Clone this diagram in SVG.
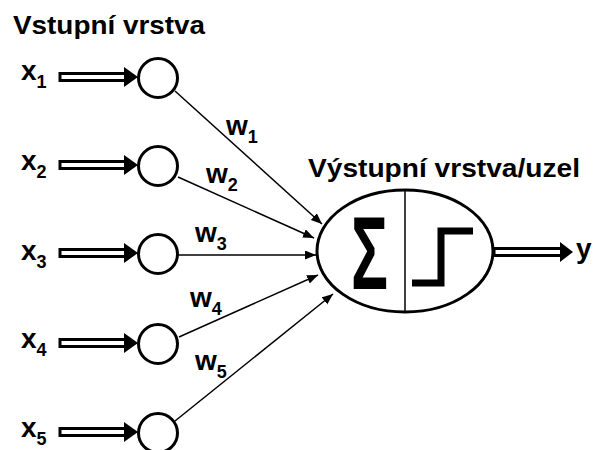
<svg xmlns="http://www.w3.org/2000/svg" width="593" height="450" viewBox="0 0 593 450">
<defs>
<style>
.t{font-family:"Liberation Sans",Arial,sans-serif;font-weight:bold;fill:#000}
.lbl{font-size:28px}
.sub{font-size:18px}
.node{fill:#fff;stroke:#000;stroke-width:3}
.conn{stroke:#000;stroke-width:1.5;fill:none;marker-end:url(#ah)}
.shaft{fill:#fff;stroke:#000;stroke-width:3}
.head{fill:#000}
</style>
<marker id="ah" markerUnits="userSpaceOnUse" markerWidth="12" markerHeight="10" refX="11" refY="4.5" orient="auto">
<path d="M0,0 L11,4.5 L0,9 Z" fill="#000"/>
</marker>
</defs>
<rect width="593" height="450" fill="#fff"/>
<text class="t" x="13" y="34" font-size="25" textLength="192" lengthAdjust="spacingAndGlyphs">Vstupní vrstva</text>
<text class="t" x="308" y="177" font-size="25" textLength="272" lengthAdjust="spacingAndGlyphs">Výstupní vrstva/uzel</text>

<g id="connectors">
<line class="conn" x1="175" y1="91" x2="322" y2="224"/>
<line class="conn" x1="178" y1="177" x2="314" y2="238"/>
<line class="conn" x1="178" y1="255" x2="316" y2="255"/>
<line class="conn" x1="179" y1="337" x2="318" y2="275"/>
<line class="conn" x1="175" y1="421" x2="333" y2="294"/>
</g>

<g id="in1">
<text class="t lbl" x="21" y="80">x<tspan class="sub" dy="8">1</tspan></text>
<rect class="shaft" x="60" y="73.5" width="66" height="7"/>
<path class="head" d="M124,67 L138,77 L124,87 Z"/>
<circle class="node" cx="158" cy="78" r="19.5"/>
</g>
<g id="in2">
<text class="t lbl" x="21" y="170">x<tspan class="sub" dy="8">2</tspan></text>
<rect class="shaft" x="60" y="161.5" width="66" height="7"/>
<path class="head" d="M124,155 L138,165 L124,175 Z"/>
<circle class="node" cx="158" cy="166" r="19.5"/>
</g>
<g id="in3">
<text class="t lbl" x="21" y="260">x<tspan class="sub" dy="8">3</tspan></text>
<rect class="shaft" x="60" y="249.5" width="66" height="7"/>
<path class="head" d="M124,243 L138,253 L124,263 Z"/>
<circle class="node" cx="158" cy="254" r="19.5"/>
</g>
<g id="in4">
<text class="t lbl" x="21" y="348">x<tspan class="sub" dy="8">4</tspan></text>
<rect class="shaft" x="60" y="339.5" width="66" height="7"/>
<path class="head" d="M124,333 L138,343 L124,353 Z"/>
<circle class="node" cx="158" cy="344" r="19.5"/>
</g>
<g id="in5">
<text class="t lbl" x="21" y="437">x<tspan class="sub" dy="8">5</tspan></text>
<rect class="shaft" x="60" y="428.5" width="66" height="7"/>
<path class="head" d="M124,422 L138,432 L124,442 Z"/>
<circle class="node" cx="158" cy="433" r="19.5"/>
</g>

<g id="weights">
<text class="t lbl" x="226" y="135">w<tspan class="sub" dy="8">1</tspan></text>
<text class="t lbl" x="206" y="183">w<tspan class="sub" dy="8">2</tspan></text>
<text class="t lbl" x="195" y="242">w<tspan class="sub" dy="8">3</tspan></text>
<text class="t lbl" x="190" y="307">w<tspan class="sub" dy="8">4</tspan></text>
<text class="t lbl" x="195" y="370">w<tspan class="sub" dy="8">5</tspan></text>
</g>

<g id="output-node">
<ellipse cx="405" cy="251" rx="88" ry="61" fill="#fff" stroke="#000" stroke-width="3"/>
<line x1="405" y1="190" x2="405" y2="312" stroke="#000" stroke-width="1.5"/>
<text class="t" x="351" y="289" font-size="104" textLength="37" lengthAdjust="spacingAndGlyphs">Σ</text>
<polyline points="412,283 441,283 441,231 473,231" fill="none" stroke="#000" stroke-width="7"/>
</g>

<g id="output">
<rect class="shaft" x="494" y="248.5" width="68" height="7"/>
<path class="head" d="M560,242 L573,252 L560,262 Z"/>
<text class="t lbl" x="576" y="258">y</text>
</g>
</svg>
